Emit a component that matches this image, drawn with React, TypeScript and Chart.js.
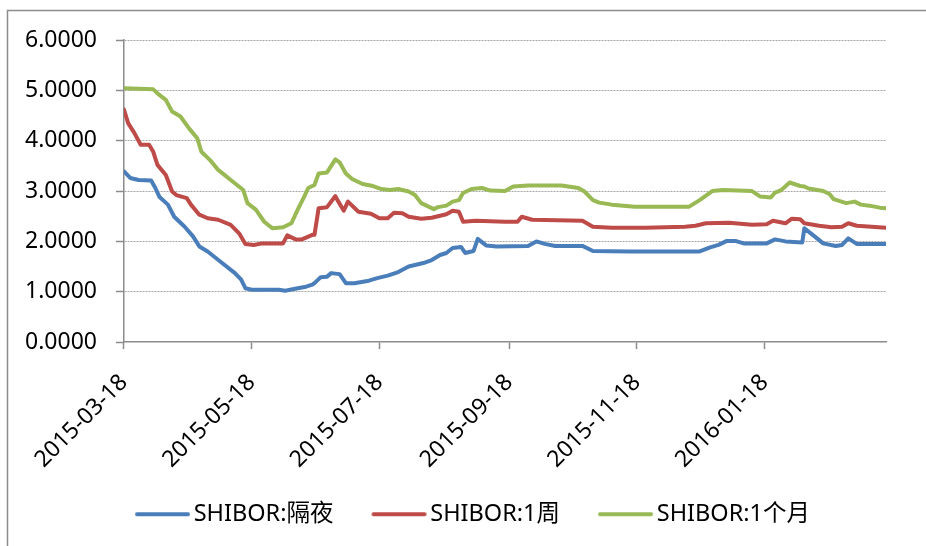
import { useEffect, useRef } from "react";
import { Chart, registerables } from "chart.js";

Chart.register(...registerables);

// x = days since 2015-03-18
const tickDays = [0, 61, 122, 184, 245, 306];
const tickLabels = ["2015-03-18", "2015-05-18", "2015-07-18", "2015-09-18", "2015-11-18", "2016-01-18"];
const yTickValues = [0, 1, 2, 3, 4, 5, 6];

const seriesNames = ["SHIBOR:隔夜", "SHIBOR:1周", "SHIBOR:1个月"];
const seriesColors = ["#4A7EBB", "#BE4B48", "#98B954"];

const overnightDays = [0, 3, 7, 13, 15, 17, 21, 24, 29, 33, 36, 40, 46, 53, 56, 58, 61, 74, 77, 83, 87, 90, 91, 94, 97, 99, 103, 106, 110, 117, 121, 126, 131, 136, 143, 147, 151, 154, 157, 161, 163, 167, 169, 173, 178, 193, 197, 201, 206, 219, 224, 241, 268, 275, 280, 284, 288, 292, 296, 307, 311, 316, 324, 325, 329, 334, 340, 343, 346, 350, 364];
const overnightValues = [3.39, 3.26, 3.22, 3.21, 3.06, 2.88, 2.73, 2.49, 2.29, 2.10, 1.90, 1.80, 1.60, 1.37, 1.24, 1.07, 1.04, 1.04, 1.02, 1.07, 1.10, 1.14, 1.17, 1.29, 1.30, 1.37, 1.35, 1.17, 1.17, 1.22, 1.27, 1.32, 1.39, 1.50, 1.57, 1.63, 1.73, 1.77, 1.87, 1.89, 1.77, 1.81, 2.05, 1.92, 1.90, 1.91, 2.00, 1.95, 1.91, 1.91, 1.81, 1.80, 1.80, 1.80, 1.88, 1.93, 2.01, 2.01, 1.96, 1.96, 2.04, 2.00, 1.98, 2.26, 2.13, 1.96, 1.91, 1.93, 2.06, 1.95, 1.95];

const weekDays = [0, 2, 5, 8, 12, 14, 16, 20, 23, 25, 30, 32, 36, 40, 45, 51, 55, 58, 62, 66, 76, 78, 82, 85, 90, 91, 93, 97, 101, 102, 105, 107, 112, 118, 122, 126, 129, 133, 136, 142, 147, 154, 157, 160, 162, 168, 182, 188, 190, 195, 219, 224, 233, 249, 268, 273, 278, 289, 300, 307, 310, 316, 319, 323, 325, 332, 338, 343, 346, 350, 364];
const weekValues = [4.62, 4.35, 4.15, 3.92, 3.92, 3.78, 3.52, 3.32, 2.99, 2.92, 2.86, 2.73, 2.53, 2.46, 2.43, 2.33, 2.16, 1.95, 1.93, 1.96, 1.96, 2.12, 2.04, 2.04, 2.13, 2.13, 2.66, 2.68, 2.90, 2.82, 2.61, 2.79, 2.59, 2.55, 2.46, 2.46, 2.57, 2.56, 2.49, 2.45, 2.47, 2.54, 2.61, 2.59, 2.39, 2.41, 2.39, 2.39, 2.49, 2.43, 2.41, 2.29, 2.27, 2.27, 2.29, 2.31, 2.36, 2.37, 2.33, 2.34, 2.41, 2.36, 2.45, 2.44, 2.36, 2.31, 2.28, 2.29, 2.36, 2.31, 2.27];

const monthDays = [0, 14, 16, 20, 23, 27, 31, 35, 37, 41, 45, 48, 51, 57, 59, 63, 67, 71, 76, 80, 83, 86, 88, 91, 93, 97, 101, 103, 106, 109, 114, 119, 123, 127, 131, 136, 139, 142, 146, 148, 150, 154, 157, 160, 162, 166, 171, 175, 182, 186, 193, 209, 217, 220, 224, 227, 233, 244, 270, 275, 281, 286, 300, 304, 309, 311, 314, 318, 323, 325, 327, 334, 337, 339, 345, 349, 352, 356, 361, 364];
const monthValues = [5.04, 5.02, 4.94, 4.81, 4.58, 4.48, 4.25, 4.05, 3.78, 3.62, 3.42, 3.32, 3.22, 3.02, 2.76, 2.63, 2.39, 2.26, 2.28, 2.36, 2.63, 2.88, 3.06, 3.12, 3.35, 3.37, 3.63, 3.57, 3.35, 3.24, 3.14, 3.10, 3.04, 3.02, 3.04, 2.99, 2.92, 2.76, 2.68, 2.64, 2.68, 2.71, 2.79, 2.82, 2.96, 3.04, 3.06, 3.01, 3.00, 3.09, 3.11, 3.11, 3.06, 2.99, 2.82, 2.77, 2.73, 2.69, 2.69, 2.82, 3.00, 3.02, 3.00, 2.89, 2.87, 2.97, 3.02, 3.17, 3.10, 3.09, 3.05, 3.00, 2.94, 2.84, 2.76, 2.79, 2.73, 2.71, 2.67, 2.66];

const FONT = "'Noto Sans', 'Noto Sans CJK SC', sans-serif";
const LEGEND_SHIFT = 20;

const toPoints = (days: number[], values: number[]) => days.map((d, i) => ({ x: d, y: values[i] }));

// legend marker: an 80px wide image whose visible line sits at 23..78
const makeLegendLine = (color: string) => {
  const c = document.createElement("canvas");
  c.width = 80;
  c.height = 6;
  const g = c.getContext("2d")!;
  g.strokeStyle = color;
  g.lineWidth = 4;
  g.lineCap = "round";
  g.beginPath();
  g.moveTo(25, 3);
  g.lineTo(76, 3);
  g.stroke();
  return c;
};

const framePlugin = {
  id: "frame",
  afterLayout(chart: any) {
    if (chart.legend) {
      chart.legend.left += LEGEND_SHIFT;
      chart.legend.right += LEGEND_SHIFT;
    }
  },
  beforeDraw(chart: any) {
    const ctx = chart.ctx;
    ctx.save();
    ctx.fillStyle = "#ffffff";
    ctx.fillRect(0, 0, chart.width, chart.height);
    ctx.strokeStyle = "#8c8c8c";
    ctx.lineWidth = 1.5;
    ctx.beginPath();
    ctx.moveTo(7.5, chart.height + 2);
    ctx.lineTo(7.5, 10.5);
    ctx.lineTo(chart.width + 2, 10.5);
    ctx.stroke();
    ctx.restore();
  },
};

export default function App() {
  const ref = useRef<HTMLCanvasElement | null>(null);
  useEffect(() => {
    if (!ref.current) return;
    const allDays = [overnightDays, weekDays, monthDays];
    const allValues = [overnightValues, weekValues, monthValues];
    const legendLines = seriesColors.map(makeLegendLine);
    const chart = new Chart(ref.current, {
      type: "line",
      data: {
        datasets: seriesNames.map((name, i) => ({
          label: name,
          data: toPoints(allDays[i], allValues[i]),
          borderColor: seriesColors[i],
          backgroundColor: seriesColors[i],
          borderWidth: 4,
          pointRadius: 0,
          tension: 0,
          borderJoinStyle: "round" as const,
          borderCapStyle: "round" as const,
          fill: false,
        })),
      },
      options: {
        responsive: false,
        animation: false,
        events: [],
        layout: { padding: { left: 6, right: 40, top: 40, bottom: 10 } },
        scales: {
          x: {
            type: "linear",
            min: 0,
            max: 364,
            afterBuildTicks: (scale: any) => {
              scale.ticks = tickDays.map((v) => ({ value: v }));
            },
            afterFit: (scale: any) => {
              scale.height -= 16;
              scale.paddingLeft = 0;
              scale.paddingRight = 0;
            },
            ticks: {
              autoSkip: false,
              minRotation: 45,
              maxRotation: 45,
              padding: 20,
              color: "#000",
              font: { family: FONT, size: 23 },
              callback: (value: any) => {
                const idx = tickDays.indexOf(Number(value));
                return idx >= 0 ? tickLabels[idx] : "";
              },
            },
            grid: {
              drawOnChartArea: false,
              drawTicks: true,
              tickLength: 7,
              tickColor: "#8c8c8c",
              tickWidth: 1.5,
            },
            border: { color: "#8c8c8c", width: 1.5 },
          },
          y: {
            min: 0,
            max: 6,
            afterBuildTicks: (scale: any) => {
              scale.ticks = yTickValues.map((v) => ({ value: v }));
            },
            ticks: {
              padding: 19,
              color: "#000",
              font: { family: FONT, size: 23 },
              callback: (value: any) => Number(value).toFixed(4),
            },
            grid: {
              color: (ctx: any) => (ctx.tick && ctx.tick.value === 0 ? "rgba(0,0,0,0)" : "#a6a6a6"),
              lineWidth: 1,
              drawTicks: true,
              tickLength: 8,
              tickColor: "#8c8c8c",
              tickWidth: 1.5,
            },
            border: { color: "#8c8c8c", width: 1.5, dash: [2, 1] },
          },
        },
        plugins: {
          legend: {
            position: "bottom",
            labels: {
              color: "#000",
              font: { family: FONT, size: 23.5 },
              usePointStyle: true,
              pointStyleWidth: 60,
              boxWidth: 60,
              boxHeight: 6,
              padding: 25,
              generateLabels: (chart: any) =>
                chart.data.datasets.map((ds: any, i: number) => ({
                  text: ds.label,
                  fillStyle: seriesColors[i],
                  strokeStyle: seriesColors[i],
                  lineWidth: 0,
                  pointStyle: legendLines[i],
                  hidden: false,
                  datasetIndex: i,
                  fontColor: "#000",
                })),
            },
          },
          tooltip: { enabled: false },
        },
      },
      plugins: [framePlugin],
    });
    return () => chart.destroy();
  }, []);
  return (
    <div style={{ position: "absolute", left: 0, top: 0, width: 926, height: 546 }}>
      <canvas ref={ref} width={926} height={546} style={{ display: "block" }} />
    </div>
  );
}
